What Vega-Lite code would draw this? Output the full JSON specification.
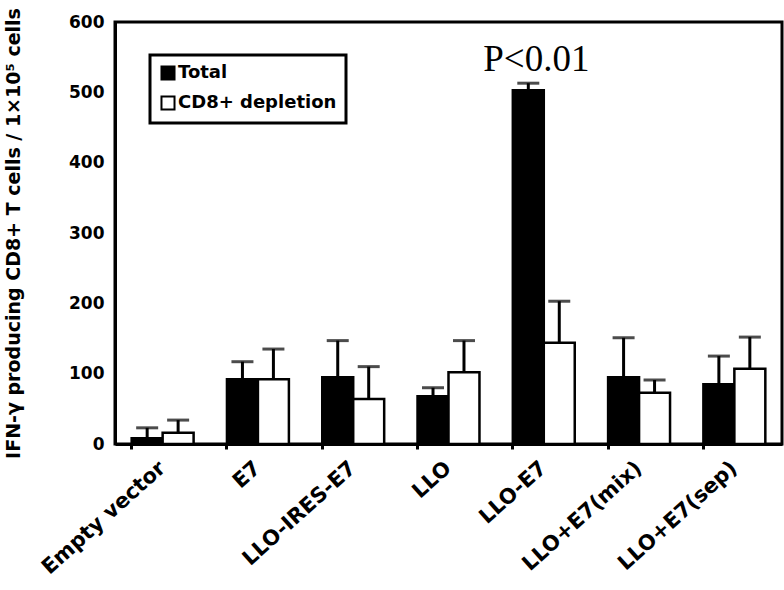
{
  "$schema": "https://vega.github.io/schema/vega-lite/v6.json",
  "width": 667,
  "height": 422,
  "autosize": "none",
  "padding": {"left": 115, "top": 22, "right": 2, "bottom": 146},
  "background": "white",
  "config": {
    "view": {"stroke": "black", "strokeWidth": 3},
    "font": "DejaVu Sans",
    "legend": {"strokeWidth": 3}
  },
  "data": {
    "values": [
      {"group": "Empty vector", "series": "Total", "value": 8, "upper": 23},
      {"group": "Empty vector", "series": "CD8+ depletion", "value": 16, "upper": 34},
      {"group": "E7", "series": "Total", "value": 92, "upper": 117},
      {"group": "E7", "series": "CD8+ depletion", "value": 92, "upper": 135},
      {"group": "LLO-IRES-E7", "series": "Total", "value": 95, "upper": 147},
      {"group": "LLO-IRES-E7", "series": "CD8+ depletion", "value": 64, "upper": 110},
      {"group": "LLO", "series": "Total", "value": 68, "upper": 80},
      {"group": "LLO", "series": "CD8+ depletion", "value": 102, "upper": 147},
      {"group": "LLO-E7", "series": "Total", "value": 503, "upper": 513},
      {"group": "LLO-E7", "series": "CD8+ depletion", "value": 144, "upper": 203},
      {"group": "LLO+E7(mix)", "series": "Total", "value": 95, "upper": 151},
      {"group": "LLO+E7(mix)", "series": "CD8+ depletion", "value": 73, "upper": 91},
      {"group": "LLO+E7(sep)", "series": "Total", "value": 85, "upper": 125},
      {"group": "LLO+E7(sep)", "series": "CD8+ depletion", "value": 107, "upper": 152}
    ]
  },
  "encoding": {
    "x": {
      "field": "group",
      "type": "nominal",
      "sort": null,
      "scale": {"paddingInner": 0.35, "paddingOuter": 0.175},
      "axis": {
        "title": null,
        "labelAngle": -42,
        "labelAlign": "right",
        "labelBaseline": "middle",
        "labelFontSize": 21,
        "labelFontWeight": "bold",
        "labelColor": "black",
        "labelPadding": 16,
        "bandPosition": 0,
        "tickSize": 5,
        "tickWidth": 3,
        "tickColor": "black",
        "domainColor": "black",
        "domainWidth": 3
      }
    },
    "xOffset": {
      "field": "series",
      "type": "nominal",
      "sort": ["Total", "CD8+ depletion"]
    }
  },
  "layer": [
    {
      "mark": {"type": "bar", "stroke": "black", "strokeWidth": 2.5},
      "encoding": {
        "y": {
          "field": "value",
          "type": "quantitative",
          "scale": {"domain": [0, 600]},
          "axis": {
            "title": "IFN-γ producing CD8+ T cells / 1×10⁵ cells",
            "titleFontSize": 19,
            "titleFontWeight": "bold",
            "titleColor": "black",
            "titlePadding": 45,
            "values": [0, 100, 200, 300, 400, 500, 600],
            "grid": false,
            "ticks": false,
            "labelFontSize": 17,
            "labelFontWeight": "bold",
            "labelColor": "black",
            "labelPadding": 11,
            "domainColor": "black",
            "domainWidth": 3
          }
        },
        "fill": {
          "field": "series",
          "type": "nominal",
          "scale": {"domain": ["Total", "CD8+ depletion"], "range": ["black", "white"]},
          "legend": {
            "title": null,
            "orient": "none",
            "legendX": 35,
            "legendY": 33,
            "symbolType": "square",
            "symbolSize": 170,
            "symbolStrokeColor": "black",
            "symbolStrokeWidth": 2,
            "labelFontSize": 18,
            "labelFontWeight": "bold",
            "labelColor": "black",
            "labelLimit": 400,
            "labelOffset": 1,
            "rowPadding": 8,
            "padding": 9,
            "strokeColor": "black",
            "fillColor": "white"
          }
        }
      }
    },
    {
      "mark": {"type": "rule", "color": "black", "strokeWidth": 3},
      "encoding": {
        "y": {"field": "value", "type": "quantitative"},
        "y2": {"field": "upper"}
      }
    },
    {
      "mark": {"type": "tick", "color": "black", "size": 22, "thickness": 3, "orient": "horizontal"},
      "encoding": {
        "y": {"field": "upper", "type": "quantitative"}
      }
    },
    {
      "transform": [{"filter": "datum.group === 'LLO-E7' && datum.series === 'Total'"}],
      "mark": {
        "type": "text",
        "text": "P<0.01",
        "font": "Liberation Serif",
        "fontSize": 37,
        "baseline": "alphabetic",
        "align": "center",
        "dx": 8,
        "dy": -12,
        "color": "black"
      },
      "encoding": {
        "y": {"field": "upper", "type": "quantitative"}
      }
    }
  ]
}
